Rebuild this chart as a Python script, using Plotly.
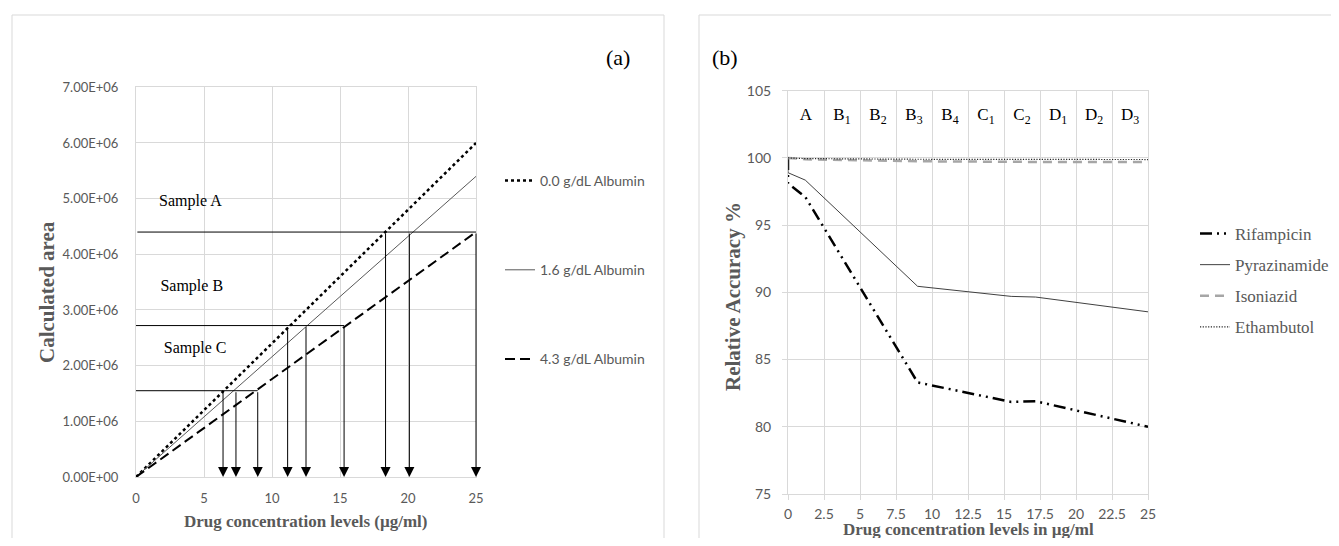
import plotly.graph_objects as go

# ---------------- Panel (a) data ----------------
conc_a = [0, 25]
albumin_names = ["0.0 g/dL Albumin", "1.6 g/dL Albumin", "4.3 g/dL Albumin"]
albumin_area_0 = [0, 0, 0]
albumin_area_25 = [6.0e6, 5.4e6, 4.4e6]

sample_names = ["Sample A", "Sample B", "Sample C"]
sample_levels = [4.40e6, 2.72e6, 1.55e6]
sample_line_start = [0.1, 0.0, 0.0]
sample_line_end = [25.0, 15.3, 8.95]
sample_label_x = [4.0, 4.1, 4.35]
sample_label_y = [4.94e6, 3.42e6, 2.30e6]

arrow_x = [6.4, 7.35, 8.95, 11.15, 12.5, 15.3, 18.35, 20.1, 25.0]
arrow_top = [1.55e6, 1.55e6, 1.55e6, 2.72e6, 2.72e6, 2.72e6, 4.40e6, 4.40e6, 4.40e6]

a_yticks = [0, 1e6, 2e6, 3e6, 4e6, 5e6, 6e6, 7e6]
a_yticktext = ["0.00E+00", "1.00E+06", "2.00E+06", "3.00E+06",
               "4.00E+06", "5.00E+06", "6.00E+06", "7.00E+06"]
a_xticks = [0, 5, 10, 15, 20, 25]

# ---------------- Panel (b) data ----------------
conc_b = [0, 0, 1.2, 9, 15.5, 17.2, 25]
rifampicin = [100, 98.1, 97.1, 83.3, 81.85, 81.9, 80.0]
pyrazinamide = [100, 98.9, 98.35, 90.45, 89.7, 89.65, 88.55]
conc_b2 = [0, 1.2, 9, 15.5, 17.2, 25]
isoniazid = [100, 99.9, 99.75, 99.7, 99.7, 99.7]
ethambutol = [100, 99.95, 99.9, 99.9, 99.9, 99.88]

sample_codes = ["A", "B<sub>1</sub>", "B<sub>2</sub>", "B<sub>3</sub>", "B<sub>4</sub>",
                "C<sub>1</sub>", "C<sub>2</sub>", "D<sub>1</sub>", "D<sub>2</sub>", "D<sub>3</sub>"]
code_x = [1.25, 3.75, 6.25, 8.75, 11.25, 13.75, 16.25, 18.75, 21.25, 23.75]
code_y = [103.1, 103.1, 103.1, 103.1, 103.1, 103.1, 103.1, 103.1, 103.1, 103.1]

b_xticks = [0, 2.5, 5, 7.5, 10, 12.5, 15, 17.5, 20, 22.5, 25]
b_yticks = [75, 80, 85, 90, 95, 100, 105]

# ---------------- page geometry ----------------
# the page body keeps its default 8px margin, so the figure is sized to fill the
# 1339x546 window exactly; positions below are given in page pixels.
PAGE_W, PAGE_H, OFF = 1339, 546, 8
FW, FH = PAGE_W - 2 * OFF, PAGE_H - 2 * OFF


def px(x):
    return (x - OFF) / FW


def py(y):
    return 1 - (y - OFF) / FH


GRID = "#d9d9d9"
TXT = "#595959"
SANS = "Lato"
SERIF = "Liberation Serif"

fig = go.Figure()

albumin_styles = [
    dict(color="black", width=2.5, dash="dot"),
    dict(color="#595959", width=1, dash="solid"),
    dict(color="black", width=2, dash="10px,5px"),
]
for name, y0, y1, st in zip(albumin_names, albumin_area_0, albumin_area_25, albumin_styles):
    fig.add_trace(go.Scatter(x=conc_a, y=[y0, y1], mode="lines", name=name,
                             line=st, legend="legend", legendgroup=name,
                             xaxis="x", yaxis="y"))

for s, lv, x0, x1 in zip(sample_names, sample_levels, sample_line_start, sample_line_end):
    fig.add_trace(go.Scatter(x=[x0, x1], y=[lv, lv], mode="lines", showlegend=False,
                             line=dict(color="black", width=1), xaxis="x", yaxis="y"))

fig.add_trace(go.Scatter(x=sample_label_x, y=sample_label_y, text=sample_names, mode="text",
                         showlegend=False, textfont=dict(family=SERIF, size=16, color="black"),
                         xaxis="x", yaxis="y"))

annotations = []
for xv, top in zip(arrow_x, arrow_top):
    annotations.append(dict(x=xv, y=0, xref="x", yref="y", ax=xv, ay=top,
                            axref="x", ayref="y", showarrow=True, text="",
                            arrowhead=2, arrowsize=2.0, arrowwidth=1, arrowcolor="black",
                            standoff=0, startstandoff=0))

# Panel (b) traces
b_series = [
    ("Rifampicin", conc_b, rifampicin, dict(color="black", width=2.5, dash="12px,5px,2px,5px,2px,5px")),
    ("Pyrazinamide", conc_b, pyrazinamide, dict(color="#404040", width=1, dash="solid")),
    ("Isoniazid", conc_b2, isoniazid, dict(color="#a6a6a6", width=2.5, dash="9px,6px")),
    ("Ethambutol", conc_b2, ethambutol, dict(color="#262626", width=1.2, dash="1.2px,1.5px")),
]
for name, xs, ys, st in b_series:
    fig.add_trace(go.Scatter(x=xs, y=ys, mode="lines", name=name, line=st,
                             legend="legend2", legendgroup=name, xaxis="x2", yaxis="y2"))

fig.add_trace(go.Scatter(x=code_x, y=code_y, text=sample_codes, mode="text", showlegend=False,
                         textfont=dict(family=SERIF, size=17, color="black"),
                         xaxis="x2", yaxis="y2"))


def label(text, x, y, size, color, angle=0):
    return dict(text=text, x=px(x), y=py(y), xref="paper", yref="paper",
                xanchor="center", yanchor="middle", textangle=angle, showarrow=False,
                font=dict(family=SERIF, size=size, color=color))


annotations += [
    label("<b>Calculated area</b>", 47, 292, 21, TXT, -90),
    label("<b>Drug concentration levels (µg/ml)</b>", 306, 521, 17, TXT),
    label("<b>Relative Accuracy %</b>", 733, 297, 21, TXT, -90),
    label("<b>Drug concentration levels in µg/ml</b>", 968, 529.5, 17, TXT),
    label("(a)", 618, 58, 22, "black"),
    label("(b)", 725, 58, 22, "black"),
]

shapes = [
    dict(type="rect", xref="paper", yref="paper", x0=px(12), x1=px(664), y0=-0.05, y1=py(15),
         line=dict(color=GRID, width=1)),
    dict(type="rect", xref="paper", yref="paper", x0=px(699), x1=1.05, y0=-0.05, y1=py(15),
         line=dict(color=GRID, width=1)),
]

axis_common = dict(showgrid=True, gridcolor=GRID, gridwidth=1, zeroline=False,
                   showline=True, linecolor=GRID, linewidth=1, mirror=True, automargin=False)

fig.update_layout(
    width=FW, height=FH, margin=dict(l=0, r=0, t=0, b=0, autoexpand=False),
    paper_bgcolor="white", plot_bgcolor="white",
    xaxis=dict(domain=[px(136), px(476)], range=[0, 25], tickvals=a_xticks,
               tickfont=dict(family=SANS, size=13, color=TXT), ticks="",
               ticklabelstandoff=9, anchor="y", **axis_common),
    yaxis=dict(domain=[py(477), py(87.3)], range=[0, 7e6], tickvals=a_yticks,
               ticktext=a_yticktext, tickfont=dict(family=SANS, size=13, color=TXT), ticks="",
               ticklabelstandoff=14, anchor="x", **axis_common),
    xaxis2=dict(domain=[px(788), px(1148)], range=[0, 25], tickvals=b_xticks,
                tickfont=dict(family=SANS, size=14, color=TXT), ticks="outside", ticklen=5,
                tickcolor=GRID, ticklabelstandoff=2, anchor="y2", **axis_common),
    yaxis2=dict(domain=[py(494), py(90.7)], range=[75, 105], tickvals=b_yticks,
                tickfont=dict(family=SANS, size=14, color=TXT), ticks="outside", ticklen=5,
                tickcolor=GRID, ticklabelstandoff=8, anchor="x2", **axis_common),
    legend=dict(x=px(500), y=py(165), xanchor="left", yanchor="top",
                font=dict(family=SANS, size=14, color=TXT), bgcolor="rgba(0,0,0,0)",
                traceorder="grouped", tracegroupgap=68),
    legend2=dict(x=px(1195), y=py(216), xanchor="left", yanchor="top",
                 font=dict(family=SERIF, size=17, color=TXT), bgcolor="rgba(0,0,0,0)",
                 traceorder="grouped", tracegroupgap=6),
    annotations=annotations,
    shapes=shapes,
)

fig.write_html("out.html")
